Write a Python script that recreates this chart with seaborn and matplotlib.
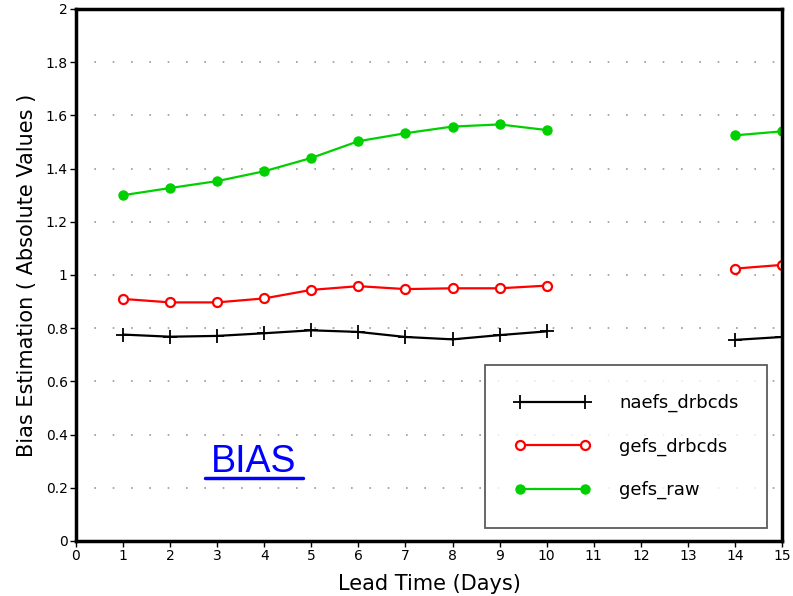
import matplotlib
matplotlib.use("Agg")
import matplotlib.pyplot as plt
import seaborn as sns
import numpy as np
import pandas as pd
from matplotlib.lines import Line2D

# Data (days 11-13 missing)
days = [1, 2, 3, 4, 5, 6, 7, 8, 9, 10, 14, 15]
segment = [0, 0, 0, 0, 0, 0, 0, 0, 0, 0, 1, 1]
naefs_drbcds = [0.776, 0.768, 0.771, 0.781, 0.792, 0.786, 0.767, 0.758, 0.774, 0.788, 0.756, 0.767]
gefs_drbcds = [0.910, 0.897, 0.897, 0.912, 0.944, 0.958, 0.947, 0.950, 0.950, 0.960, 1.024, 1.038]
gefs_raw = [1.300, 1.327, 1.353, 1.390, 1.440, 1.503, 1.533, 1.558, 1.566, 1.545, 1.525, 1.540]
series_names = ["naefs_drbcds", "gefs_drbcds", "gefs_raw"]
x_ticks = list(range(0, 16))
y_ticks = [0, 0.2, 0.4, 0.6, 0.8, 1.0, 1.2, 1.4, 1.6, 1.8, 2.0]

sns.set_style("white")
plt.rcParams['font.family'] = ['DejaVu Sans']
plt.rcParams['text.color'] = 'black'
plt.rcParams['axes.labelcolor'] = 'black'
plt.rcParams['xtick.color'] = 'black'
plt.rcParams['ytick.color'] = 'black'

frames = []
for name, vals in zip(series_names, [naefs_drbcds, gefs_drbcds, gefs_raw]):
    frames.append(pd.DataFrame({"day": days, "value": vals, "seg": segment, "series": name}))
df = pd.concat(frames, ignore_index=True)

styles = {
    "naefs_drbcds": dict(color="black", marker="+", markersize=10, markeredgewidth=1.3,
                         markerfacecolor="black", markeredgecolor="black"),
    "gefs_drbcds": dict(color="red", marker="o", markersize=6.5, markeredgewidth=1.6,
                        markerfacecolor="white", markeredgecolor="red"),
    "gefs_raw": dict(color="#00d000", marker="o", markersize=6.5, markeredgewidth=1,
                     markerfacecolor="#00d000", markeredgecolor="#00d000"),
}

fig = plt.figure(figsize=(7.93, 5.96), dpi=100)
ax = fig.add_axes([0.0958, 0.0923, 0.8904, 0.8926])

for name in series_names:
    sub = df[df["series"] == name]
    sns.lineplot(data=sub, x="day", y="value", units="seg", estimator=None,
                 linewidth=1.6, ax=ax, legend=False, **styles[name])

ax.set_xlim(0, 15)
ax.set_ylim(0, 2)
ax.set_xticks(x_ticks)
ax.set_yticks(y_ticks)
ax.set_yticklabels([f"{v:g}" for v in y_ticks])
ax.tick_params(axis="both", direction="out", length=4, width=1, labelsize=10, pad=2,
               left=True, bottom=True)

for yv in y_ticks[1:-1]:
    ax.axhline(yv, color="#999999", linestyle=(0, (1, 10)), linewidth=1.2, zorder=0)

for sp in ax.spines.values():
    sp.set_linewidth(2.5)
    sp.set_color("black")

ax.set_xlabel("Lead Time (Days)", fontsize=15, labelpad=8)
ax.set_ylabel("Bias Estimation ( Absolute Values )", fontsize=15, labelpad=6)

ax.text(3.78, 0.259, "BIAS", color="blue", fontsize=27,
        ha="center", va="baseline", family="Liberation Sans")
# underline of the BIAS label
fig.add_artist(Line2D([0.259, 0.382], [0.198, 0.198], color="blue", linewidth=2.5,
                      transform=fig.transFigure))

handles = [Line2D([0], [0], linewidth=1.6, **styles[n]) for n in series_names]
leg = ax.legend(handles, series_names, loc="lower right", bbox_to_anchor=(0.979, 0.024),
                fontsize=13, numpoints=2, handlelength=4.2, handletextpad=1.6,
                labelspacing=1.4, borderpad=1.6, borderaxespad=0, fancybox=False,
                frameon=True)
leg.get_frame().set_edgecolor("#333333")
leg.get_frame().set_linewidth(1.3)

fig.savefig("out.png", dpi=100)
